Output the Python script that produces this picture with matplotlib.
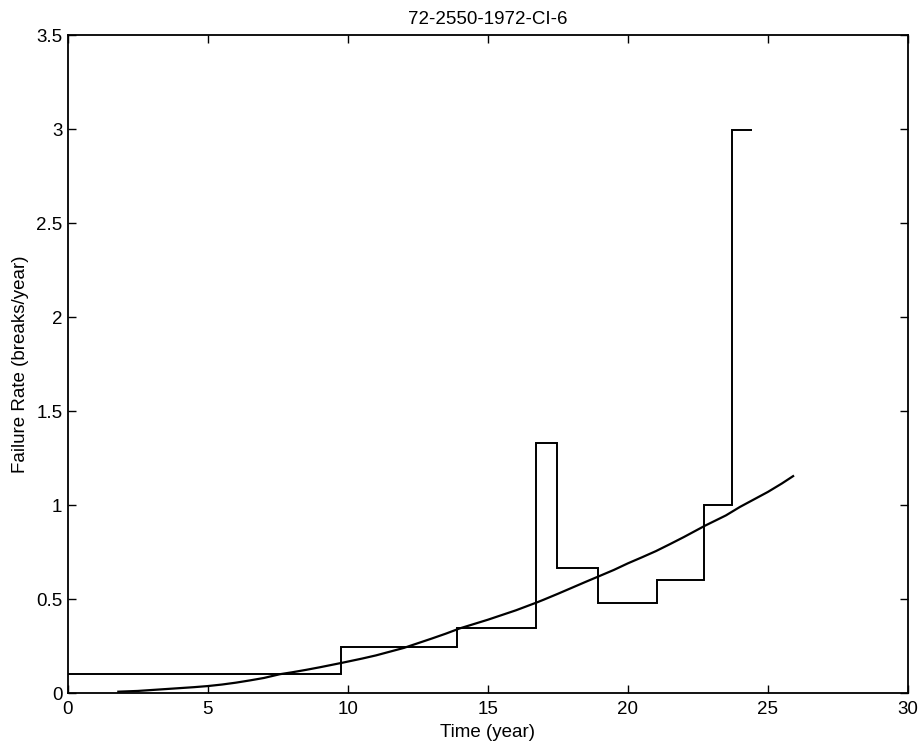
import matplotlib
matplotlib.use("Agg")
import matplotlib.pyplot as plt
import numpy as np

plt.rcParams['font.family'] = ['Liberation Sans', 'DejaVu Sans']

# Observed failure rate (step function)
step_edges = [0.0, 9.77, 13.9, 16.72, 17.48, 18.92, 21.05, 22.71, 23.73, 24.44]
step_rates = [0.1, 0.244, 0.345, 1.328, 0.663, 0.478, 0.601, 1.003, 2.998]

# Fitted failure rate curve
fit_years = [1.8, 2.5, 3, 3.5, 4, 4.5, 5, 5.5, 6, 6.5, 7, 7.57, 8, 8.5, 9, 9.8, 10.5,
             11, 11.5, 12, 12.5, 13, 13.5, 14, 14.5, 15, 15.5, 16, 16.75, 17, 17.5,
             18, 18.5, 18.93, 19.5, 20, 20.5, 21, 21.5, 22, 22.75, 23.5, 24, 24.5,
             25, 25.5, 25.9]
fit_rates = [0.007, 0.011, 0.016, 0.021, 0.026, 0.031, 0.037, 0.045, 0.055, 0.067,
             0.08, 0.1, 0.11, 0.123, 0.137, 0.161, 0.183, 0.2, 0.22, 0.24, 0.265,
             0.29, 0.316, 0.344, 0.367, 0.39, 0.415, 0.44, 0.482, 0.497, 0.528,
             0.56, 0.592, 0.619, 0.655, 0.69, 0.722, 0.755, 0.792, 0.83, 0.89,
             0.945, 0.99, 1.03, 1.07, 1.115, 1.154]

fig = plt.figure(figsize=(9.18, 7.5), dpi=100)
ax = fig.add_axes([0.074, 0.076, 0.915, 0.877])

ax.stairs(step_rates, step_edges, color='black', linewidth=1.4, baseline=None)
ax.plot(fit_years, fit_rates, color='black', linewidth=1.6)

ax.set_xlim(0, 30)
ax.set_ylim(0, 3.5)
ax.set_xticks([0, 5, 10, 15, 20, 25, 30])
ax.set_yticks([0, 0.5, 1, 1.5, 2, 2.5, 3, 3.5])
ax.set_yticklabels(['0', '0.5', '1', '1.5', '2', '2.5', '3', '3.5'])
ax.tick_params(direction='in', top=True, right=True, length=6, width=1,
               labelsize=13.5)
ax.tick_params(axis='x', pad=6)
ax.tick_params(axis='y', pad=4)
for s in ax.spines.values():
    s.set_linewidth(1.3)

ax.set_xlabel('Time (year)', fontsize=13.5, labelpad=4)
ax.set_ylabel('Failure Rate (breaks/year)', fontsize=13.5, labelpad=5)
ax.set_title('72-2550-1972-CI-6', fontsize=13.5, pad=8)

fig.savefig('out.png', dpi=100)
